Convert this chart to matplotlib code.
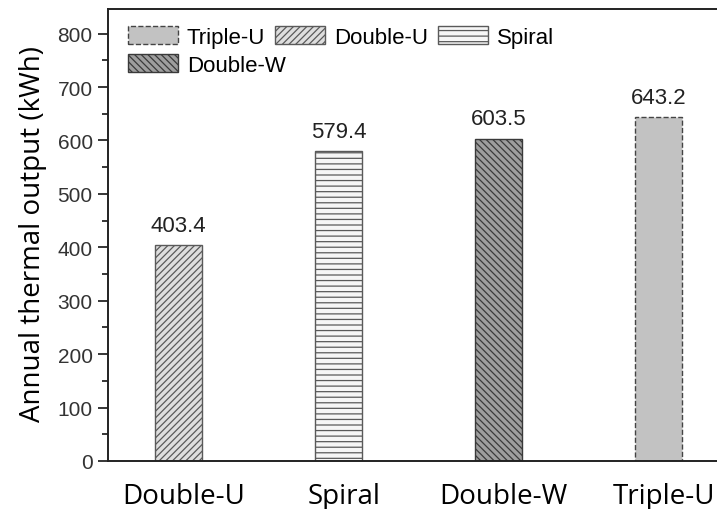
import matplotlib.pyplot as plt
import matplotlib.transforms as mtransforms
from matplotlib.ticker import MultipleLocator
from matplotlib.patches import Patch

categories = ["Double-U", "Spiral", "Double-W", "Triple-U"]
values = [403.4, 579.4, 603.5, 643.2]
legend_row1 = ["Triple-U", "Double-U", "Spiral"]
legend_row2 = ["Double-W"]

styles = {
    "Double-U": dict(facecolor="#dedede", hatch="/////", edgecolor="#5a5a5a", linestyle="-"),
    "Spiral":   dict(facecolor="#f6f6f6", hatch="---", edgecolor="#5a5a5a", linestyle="-"),
    "Double-W": dict(facecolor="#9e9e9e", hatch="\\\\\\\\\\", edgecolor="#3a3a3a", linestyle="-"),
    "Triple-U": dict(facecolor="#c2c2c2", hatch="", edgecolor="#444444", linestyle="--"),
}

plt.rcParams['hatch.linewidth'] = 0.9
W, H = 717, 510
fig = plt.figure(figsize=(W / 100, H / 100), dpi=100)
ax = fig.add_axes([108 / W, (H - 462) / H, (720 - 108) / W, (462 - 10) / H])

x = list(range(len(categories)))
for i, (c, v) in enumerate(zip(categories, values)):
    s = styles[c]
    ax.bar(i, v, width=0.295, facecolor=s["facecolor"], hatch=s["hatch"],
           edgecolor=s["edgecolor"], linestyle=s["linestyle"], linewidth=1.0)
    ax.text(i, v + 18, f"{v:.1f}", ha="center", va="bottom",
            fontsize=16, family="Liberation Sans", color="#222222")

ax.set_xlim(-0.442, 3.384)
ax.set_ylim(0, 846)
ax.yaxis.set_major_locator(MultipleLocator(100))
ax.yaxis.set_minor_locator(MultipleLocator(50))
ax.set_xticks(x)
ax.set_xticklabels(categories, fontsize=20, family="Open Sans")
ax.tick_params(axis="x", length=0, pad=15)
shift = mtransforms.ScaledTranslation(5 / 100, 0, fig.dpi_scale_trans)
for lab in ax.get_xticklabels():
    lab.set_transform(lab.get_transform() + shift)
ax.tick_params(axis="y", which="major", direction="out", length=7.5, labelsize=15, width=1.1, pad=3.5)
ax.tick_params(axis="y", which="minor", direction="out", length=4, width=1.1)
for lab in ax.get_yticklabels():
    lab.set_family("Liberation Sans")
    lab.set_color("#333333")
ax.set_ylabel("Annual thermal output (kWh)", fontsize=20, family="Open Sans", va="center")
ax.yaxis.set_label_coords((33 - 108) / 612, 0.505)
ax.spines["right"].set_visible(False)
for sp in ["left", "bottom", "top"]:
    ax.spines[sp].set_linewidth(1.4)
    ax.spines[sp].set_color("#222222")


def make_handles(names):
    return [Patch(facecolor=styles[n]["facecolor"], hatch=styles[n]["hatch"],
                  edgecolor=styles[n]["edgecolor"], linestyle=styles[n]["linestyle"],
                  label=n) for n in names]


common = dict(frameon=False, prop={"family": "Liberation Sans", "size": 16},
              handlelength=2.25, handleheight=0.85, columnspacing=0.45,
              handletextpad=0.4, borderpad=0.0, borderaxespad=0.0, loc="center left")
leg1 = ax.legend(handles=make_handles(legend_row1), ncol=3,
                 bbox_to_anchor=(128 / W, (H - 38) / H), bbox_transform=fig.transFigure, **common)
ax.add_artist(leg1)
leg2 = ax.legend(handles=make_handles(legend_row2), ncol=1,
                 bbox_to_anchor=(128 / W, (H - 66) / H), bbox_transform=fig.transFigure, **common)

fig.savefig("out.png", dpi=100)
